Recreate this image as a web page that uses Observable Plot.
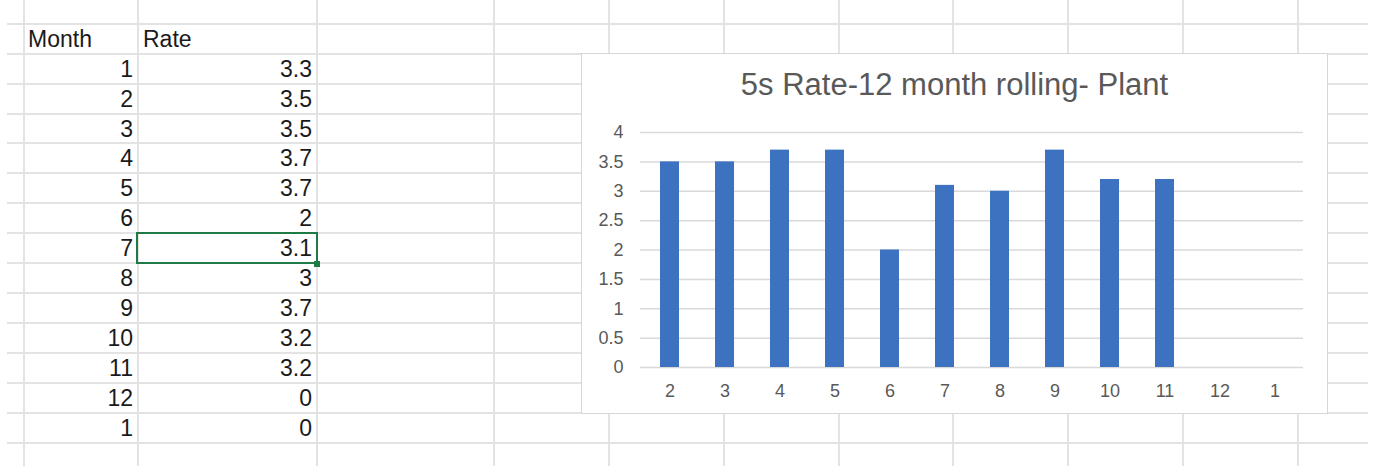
<!DOCTYPE html>
<html>
<head>
<meta charset="utf-8">
<script src="https://cdn.jsdelivr.net/npm/d3@7"></script>
<script src="https://cdn.jsdelivr.net/npm/@observablehq/plot@0.6"></script>
<style>
  html, body { margin: 0; padding: 0; background: #fff; }
  #sheet { position: relative; width: 1375px; height: 466px; overflow: hidden; background: #fff;
           font-family: "Liberation Sans", Arial, sans-serif; }
  .hl { position: absolute; height: 2px; background: #e3e3e3; }
  .vl { position: absolute; width: 2px; top: 0; height: 466px; background: #e3e3e3; }
  .cell { position: absolute; font-size: 23px; line-height: 30px; height: 30px; color: #1a1a1a; white-space: nowrap; }
  .sel { position: absolute; box-sizing: border-box; border: 2px solid #1e7b45; }
  .handle { position: absolute; width: 6px; height: 6px; background: #1e7b45; }
  .chartbox { position: absolute; box-sizing: border-box; border: 1px solid #d6d6d6; background: #fff; }
  .ctitle { position: absolute; text-align: center; font-size: 31px; line-height: 36px; color: #595959; white-space: nowrap; }
  #plot { position: absolute; }
</style>
</head>
<body>
<div id="sheet"></div>
<script>
// ---- data ----
const headers = ["Month", "Rate"];
const tableMonths = [1, 2, 3, 4, 5, 6, 7, 8, 9, 10, 11, 12, 1];
const tableRates = [3.3, 3.5, 3.5, 3.7, 3.7, 2, 3.1, 3, 3.7, 3.2, 3.2, 0, 0];
const chartTitle = "5s Rate-12 month rolling- Plant";
const yTicks = [0, 0.5, 1, 1.5, 2, 2.5, 3, 3.5, 4];
// the chart plots rows 2..13 of the table
const chartMonths = tableMonths.slice(1).map(String);
const chartRates = tableRates.slice(1);

// ---- layout (spreadsheet grid) ----
const colEdges = [24, 138, 317, 494, 609, 724, 839, 953, 1068, 1183, 1298];
const rowEdges = [24, 54, 84, 114, 143, 173, 203, 233, 263, 293, 323, 353, 383, 413, 443];
const sheet = document.getElementById("sheet");

function el(cls, styles, text) {
  const d = document.createElement("div");
  d.className = cls;
  Object.assign(d.style, styles);
  if (text !== undefined) d.textContent = text;
  sheet.appendChild(d);
  return d;
}

rowEdges.forEach(y => el("hl", {left: "7px", width: "1361px", top: (y - 1) + "px"}));
colEdges.forEach(x => el("vl", {left: (x - 1) + "px"}));

// header row
el("cell", {left: "28px", top: rowEdges[0] + "px"}, headers[0]);
el("cell", {left: "143px", top: rowEdges[0] + "px"}, headers[1]);
// data rows
tableMonths.forEach((m, i) => {
  const top = rowEdges[i + 1];
  el("cell", {right: (1375 - 133) + "px", top: top + "px", textAlign: "right"}, String(m));
  el("cell", {right: (1375 - 312) + "px", top: top + "px", textAlign: "right"}, String(tableRates[i]));
});

// selected cell (Rate for month 7)
el("sel", {left: "136px", top: "232px", width: "182px", height: "32px"});
el("handle", {left: "314px", top: "261px"});

// ---- chart ----
const boxL = 581, boxT = 53, boxW = 747, boxH = 361;
el("chartbox", {left: boxL + "px", top: boxT + "px", width: boxW + "px", height: boxH + "px"});
el("ctitle", {left: boxL + "px", width: boxW + "px", top: "67px"}, chartTitle);

const data = chartMonths.map((m, i) => ({month: m, rate: chartRates[i]}));

const chart = Plot.plot({
  width: boxW,
  height: boxH,
  marginLeft: 59,
  marginRight: 25,
  marginTop: 79,
  marginBottom: 47,
  style: {
    fontFamily: '"Liberation Sans", Arial, sans-serif',
    fontSize: "18px",
    color: "#595959",
    background: "transparent",
    overflow: "visible"
  },
  x: {type: "band", domain: chartMonths, paddingInner: 0.656, paddingOuter: 0.328, label: null},
  y: {domain: [0, 4], label: null},
  marks: [
    Plot.gridY(yTicks, {stroke: "#d9d9d9", strokeOpacity: 1, strokeWidth: 1.5}),
    Plot.barY(data, {x: "month", y: "rate", fill: "#3d72c0"}),
    Plot.axisX({tickSize: 0, tickPadding: 17, label: null}),
    Plot.axisY(yTicks, {tickSize: 0, tickPadding: 17, tickFormat: d => String(d), label: null})
  ]
});
chart.id = "plot";
chart.style.left = boxL + "px";
chart.style.top = boxT + "px";
sheet.appendChild(chart);
</script>
</body>
</html>
